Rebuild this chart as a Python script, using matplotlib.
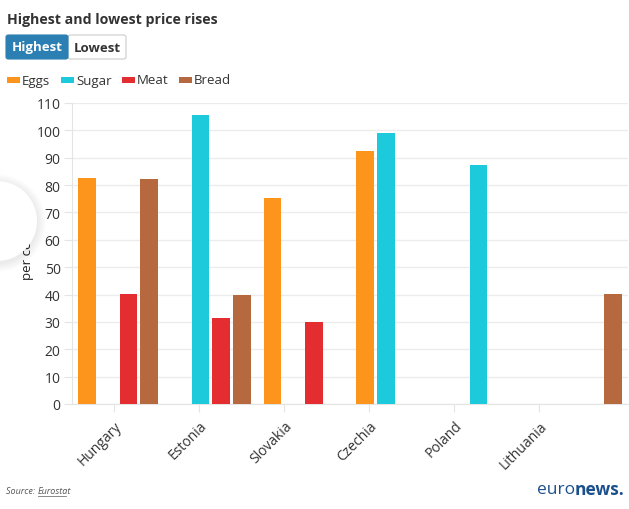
import numpy as np
import matplotlib
matplotlib.use('Agg')
import matplotlib.pyplot as plt
from matplotlib.patches import Circle, FancyBboxPatch, Rectangle

plt.rcParams['font.family'] = ['Open Sans', 'DejaVu Sans']

countries = ['Hungary', 'Estonia', 'Slovakia', 'Czechia', 'Poland', 'Lithuania']
series_names = ['Eggs', 'Sugar', 'Meat', 'Bread']
eggs = [82.7, np.nan, 75.2, 92.6, np.nan, np.nan]
sugar = [np.nan, 105.6, np.nan, 99.1, 87.4, np.nan]
meat = [40.2, 31.6, 30.0, np.nan, np.nan, np.nan]
bread = [82.1, 39.8, np.nan, np.nan, np.nan, 40.1]
colors = ['#fd951c', '#1ccadc', '#e32d30', '#b6693f']
y_ticks = [0, 10, 20, 30, 40, 50, 60, 70, 80, 90, 100, 110]

W, H = 629, 510
fig = plt.figure(figsize=(W / 100, H / 100), dpi=100)
ax = fig.add_axes([71.7 / W, 1 - 405 / H, (628 - 71.7) / W, (405 - 104) / H])

slot = 0.224
bar_w = 0.189
x = np.arange(len(countries))
for k, (vals, col) in enumerate(zip([eggs, sugar, meat, bread], colors)):
    vals = np.array(vals, dtype=float)
    ok = ~np.isnan(vals)
    ax.bar(x[ok] - 0.336 + k * slot, vals[ok], width=bar_w, color=col, zorder=3)

ax.set_xlim(-0.5, len(countries) - 0.5)
ax.set_ylim(0, 110)
ax.set_yticks(y_ticks)
ax.yaxis.grid(True, color='#ececec', lw=1, zorder=0)

# category labels sit on a narrower band scale than the bars
tick_scale = 85 / 92.7
ax.set_xticks(-0.5 + (x + 0.5) * tick_scale)
ax.set_xticklabels(countries, rotation=45, ha='right', va='top',
                   rotation_mode='anchor', fontsize=10, color='#333333')

for s in ['top', 'right']:
    ax.spines[s].set_visible(False)
for s in ['left', 'bottom']:
    ax.spines[s].set_color('#e4e4e4')
ax.tick_params(axis='y', length=6, color='#e4e4e4', labelsize=10,
               labelcolor='#333333', pad=2)
ax.tick_params(axis='x', length=6, color='#e4e4e4', pad=4)

fig.text(27 / W, 1 - 254 / H, 'per cent', rotation=90, ha='center',
         va='center', fontsize=9.5, color='#222222')

# title and toggle buttons
fig.text(7 / W, 1 - 20 / H, 'Highest and lowest price rises', fontsize=10.2,
         fontweight='bold', color='#333333', va='center')
fig.add_artist(FancyBboxPatch((68 / W, 1 - 60 / H), 58 / W, 24 / H,
                              boxstyle='round,pad=0,rounding_size=0.004',
                              transform=fig.transFigure, fc='white',
                              ec='#cccccc', lw=0.8))
fig.add_artist(FancyBboxPatch((6 / W, 1 - 60 / H), 62 / W, 24 / H,
                              boxstyle='round,pad=0,rounding_size=0.004',
                              transform=fig.transFigure, fc='#2b7fb3',
                              ec='#2b7fb3', lw=0.8))
fig.text(37 / W, 1 - 48 / H, 'Highest', fontsize=9.5, fontweight='bold',
         color='white', ha='center', va='center')
fig.text(97 / W, 1 - 48 / H, 'Lowest', fontsize=9.5, fontweight='bold',
         color='#333333', ha='center', va='center')

# legend
leg_x = [7, 61, 122, 179]
for name, col, lx in zip(series_names, colors, leg_x):
    fig.add_artist(Rectangle((lx / W, 1 - 84 / H), 13 / W, 6 / H,
                             transform=fig.transFigure, fc=col, ec='none'))
    fig.text((lx + 15) / W, 1 - 81 / H, name, fontsize=9.5, color='#333333',
             va='center')

# floating round button over the axis label
cx, cy, r = -3, 222, 40
for i in range(10, 0, -1):
    fig.add_artist(Circle((cx / 100, (H - cy - 2) / 100), (r + i * 0.9) / 100,
                          transform=fig.dpi_scale_trans, fc='#000000',
                          alpha=0.009, ec='none', zorder=9))
fig.add_artist(Circle((cx / 100, (H - cy) / 100), r / 100,
                      transform=fig.dpi_scale_trans, fc='white', ec='none',
                      zorder=10))

# footer
fig.text(6 / W, 1 - 492 / H, 'Source: ', fontsize=6.5, style='italic',
         color='#555555', va='center')
fig.text(38 / W, 1 - 492 / H, 'Eurostat', fontsize=6.5, style='italic',
         color='#555555', va='center')
fig.add_artist(plt.Line2D([38 / W, 66 / W], [1 - 497 / H, 1 - 497 / H],
                          transform=fig.transFigure, color='#777777', lw=0.6))
fig.text(575 / W, 1 - 490 / H, 'euro', fontsize=12.5, color='#1b4f8c',
         ha='right', va='center')
fig.text(575 / W, 1 - 490 / H, 'news.', fontsize=12.5, fontweight='bold',
         color='#1b4f8c', ha='left', va='center')

fig.savefig('out.png', dpi=100)
